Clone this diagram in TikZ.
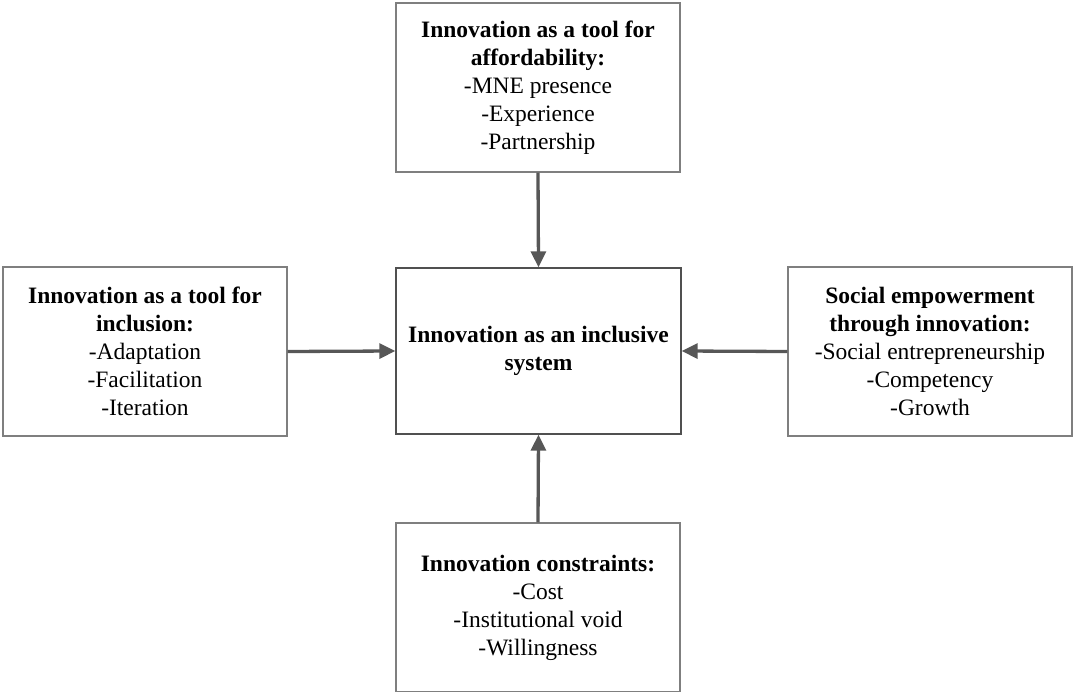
\documentclass[tikz,border=0pt]{standalone}
\usepackage{fontspec}
\setmainfont{Liberation Serif}
\usetikzlibrary{arrows.meta}
\definecolor{boxline}{HTML}{7F7F7F}
\definecolor{midline}{HTML}{505050}
\definecolor{arrowcol}{HTML}{575757}
\begin{document}
\begin{tikzpicture}[x=1pt,y=-1pt,
  box/.style={draw=boxline,line width=1.1pt,fill=white,align=center,
    minimum width=284pt,minimum height=169pt,inner sep=0pt,
    font=\fontsize{23.5}{28}\selectfont},
  midbox/.style={box,draw=midline,line width=1.4pt,minimum width=285pt,minimum height=166pt},
  conn/.style={draw=arrowcol,line width=3.3pt,-{Triangle[length=16pt,width=15pt]}}]
\useasboundingbox (0,0) rectangle (1073,692);
\node[box] (top) at (538,87.5) {\textbf{Innovation as a tool for}\\\textbf{affordability:}\\-MNE presence\\-Experience\\-Partnership};
\node[box] (left) at (145,351.5) {\textbf{Innovation as a tool for}\\\textbf{inclusion:}\\-Adaptation\\-Facilitation\\-Iteration};
\node[midbox] (mid) at (538.5,351) {\textbf{Innovation as an inclusive}\\\textbf{system}};
\node[box] (right) at (930,351.5) {\textbf{Social empowerment}\\\textbf{through innovation:}\\-Social entrepreneurship\\-Competency\\-Growth};
\node[box] (bot) at (538,607.5) {\textbf{Innovation constraints:}\\-Cost\\-Institutional void\\-Willingness};
\draw[conn] (top.south) -- (mid.north);
\draw[conn] (left.east) -- (mid.west);
\draw[conn] (right.west) -- (mid.east);
\draw[conn] (bot.north) -- (mid.south);
\end{tikzpicture}
\end{document}
